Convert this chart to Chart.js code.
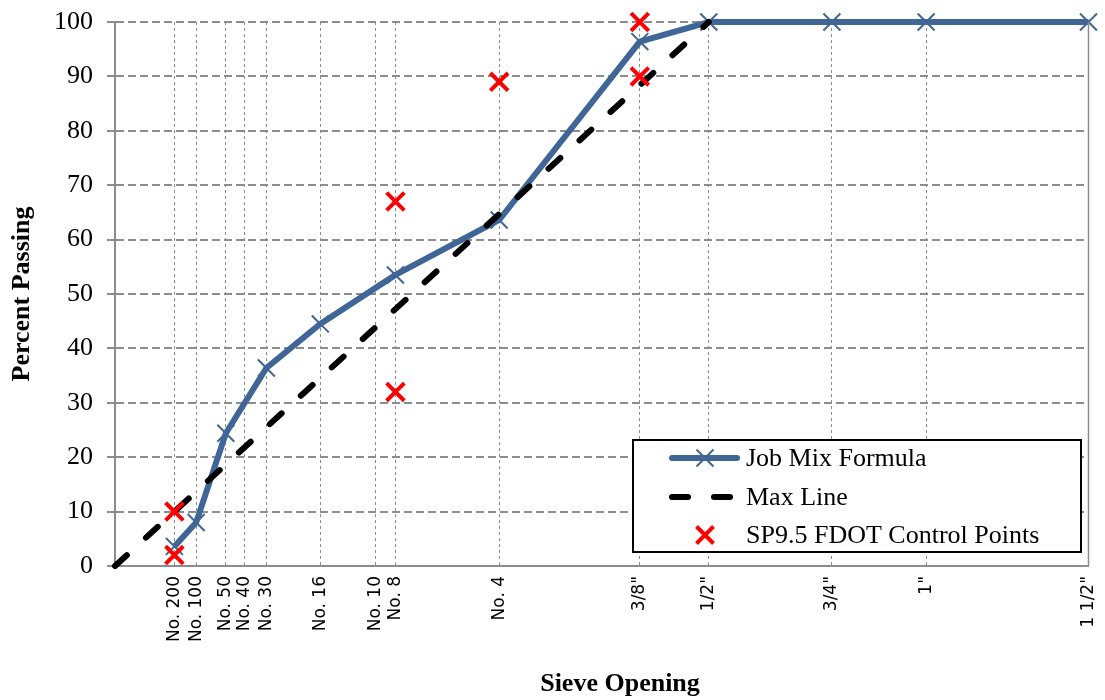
<!DOCTYPE html>
<html>
<head>
<meta charset="utf-8">
<title>Gradation – 0.45 Power Chart</title>
<script src="https://cdn.jsdelivr.net/npm/chart.js@4.4.1/dist/chart.umd.min.js"></script>
<style>
  html, body { margin: 0; padding: 0; background: #ffffff; }
  canvas { display: block; }
</style>
</head>
<body>
<canvas id="gradation" width="1105" height="700"></canvas>
<script>
// Sieve designations and their openings in millimetres
const SIEVE_LABELS = ['No. 200', 'No. 100', 'No. 50', 'No. 40', 'No. 30', 'No. 16', 'No. 10', 'No. 8', 'No. 4', '3/8"', '1/2"', '3/4"', '1"', '1 1/2"'];
const SIEVE_MM = [0.075, 0.15, 0.3, 0.425, 0.6, 1.18, 2.0, 2.36, 4.75, 9.5, 12.5, 19, 25, 37.5];

// Job mix formula gradation (percent passing)
const JMF_SIEVES = ['No. 200', 'No. 100', 'No. 50', 'No. 30', 'No. 16', 'No. 8', 'No. 4', '3/8"', '1/2"', '3/4"', '1"', '1 1/2"'];
const JMF_PASSING = [3.6, 8.0, 24.4, 36.4, 44.5, 53.5, 63.6, 96.4, 100, 100, 100, 100];

// Maximum density line: from the origin to 100 % at the maximum aggregate size
const MAX_LINE_MM = [0, 12.5];
const MAX_LINE_PASSING = [0, 100];

// SP9.5 FDOT control points
const CONTROL_SIEVES = ['No. 200', 'No. 200', 'No. 8', 'No. 8', 'No. 4', '3/8"', '3/8"'];
const CONTROL_PASSING = [2, 10, 32, 67, 89, 90, 100];

// Y axis ticks
const Y_MIN = 0, Y_MAX = 100, Y_STEP = 10;

// 0.45 power scale for the sieve axis
const POWER = 0.45;
const gx = mm => Math.pow(mm, POWER);
const sieveX = label => gx(SIEVE_MM[SIEVE_LABELS.indexOf(label)]);

const BLUE = '#3F6696';
const RED = '#FF0000';
const GRID = '#8c8c8c';
const SERIF = '"Liberation Serif", "Times New Roman", serif';

const jmfData = JMF_SIEVES.map((s, i) => ({ x: sieveX(s), y: JMF_PASSING[i] }));
const maxData = MAX_LINE_MM.map((mm, i) => ({ x: gx(mm), y: MAX_LINE_PASSING[i] }));
const ctrlData = CONTROL_SIEVES.map((s, i) => ({ x: sieveX(s), y: CONTROL_PASSING[i] }));

// Axis titles, right frame edge and the boxed legend
const decorations = {
  id: 'decorations',
  afterDatasetsDraw(chart) {
    const { ctx, chartArea: a } = chart;
    ctx.save();
    // right frame edge
    ctx.strokeStyle = GRID;
    ctx.lineWidth = 1.5;
    ctx.beginPath();
    ctx.moveTo(a.right, a.top);
    ctx.lineTo(a.right, a.bottom);
    ctx.stroke();

    // legend box
    const bx = 633, by = 440, bw = 448, bh = 112;
    ctx.fillStyle = '#ffffff';
    ctx.fillRect(bx, by, bw, bh);
    ctx.strokeStyle = '#000000';
    ctx.lineWidth = 2;
    ctx.strokeRect(bx, by, bw, bh);

    const rows = [458, 497, 535];
    const sx0 = 672, sx1 = 737, mx = 705;

    // Job Mix Formula sample
    ctx.strokeStyle = BLUE;
    ctx.lineWidth = 6;
    ctx.lineCap = 'round';
    ctx.beginPath();
    ctx.moveTo(sx0, rows[0]);
    ctx.lineTo(sx1, rows[0]);
    ctx.stroke();
    ctx.lineCap = 'butt';
    ctx.lineWidth = 2;
    const r1 = 12 * Math.SQRT1_2;
    ctx.beginPath();
    ctx.moveTo(mx - r1, rows[0] - r1); ctx.lineTo(mx + r1, rows[0] + r1);
    ctx.moveTo(mx - r1, rows[0] + r1); ctx.lineTo(mx + r1, rows[0] - r1);
    ctx.stroke();

    // Max Line sample
    ctx.strokeStyle = '#000000';
    ctx.lineWidth = 6;
    ctx.lineCap = 'round';
    ctx.setLineDash([16, 26]);
    ctx.beginPath();
    ctx.moveTo(sx0, rows[1]);
    ctx.lineTo(sx1, rows[1]);
    ctx.stroke();
    ctx.setLineDash([]);

    // Control points sample
    ctx.strokeStyle = RED;
    ctx.lineWidth = 4;
    ctx.lineCap = 'butt';
    const r2 = 12 * Math.SQRT1_2;
    ctx.beginPath();
    ctx.moveTo(mx - r2, rows[2] - r2); ctx.lineTo(mx + r2, rows[2] + r2);
    ctx.moveTo(mx - r2, rows[2] + r2); ctx.lineTo(mx + r2, rows[2] - r2);
    ctx.stroke();

    ctx.fillStyle = '#000000';
    ctx.font = '26px ' + SERIF;
    ctx.textAlign = 'left';
    ctx.textBaseline = 'middle';
    ctx.fillText('Job Mix Formula', 746, rows[0] + 1);
    ctx.fillText('Max Line', 746, rows[1] + 1);
    ctx.fillText('SP9.5 FDOT Control Points', 746, rows[2] + 1);

    // axis titles
    ctx.font = 'bold 26px ' + SERIF;
    ctx.textAlign = 'center';
    ctx.fillText('Sieve Opening', 620, 684);
    ctx.translate(22, 294);
    ctx.rotate(-Math.PI / 2);
    ctx.fillText('Percent Passing', 0, 0);
    ctx.restore();
  }
};

new Chart(document.getElementById('gradation'), {
  type: 'scatter',
  data: {
    datasets: [
      {
        label: 'Job Mix Formula',
        data: jmfData,
        showLine: true,
        borderColor: BLUE,
        backgroundColor: BLUE,
        borderWidth: 6,
        pointStyle: 'crossRot',
        pointRadius: 12,
        pointBorderWidth: 2,
        pointBorderColor: BLUE,
        pointHoverRadius: 12,
        tension: 0,
        clip: false,
        order: 3
      },
      {
        label: 'Max Line',
        data: maxData,
        showLine: true,
        borderColor: '#000000',
        borderWidth: 6,
        borderDash: [16, 26],
        borderCapStyle: 'round',
        pointRadius: 0,
        pointHoverRadius: 0,
        clip: false,
        order: 2
      },
      {
        label: 'SP9.5 FDOT Control Points',
        data: ctrlData,
        showLine: false,
        pointStyle: 'crossRot',
        pointRadius: 12.5,
        pointBorderWidth: 4,
        pointBorderColor: RED,
        backgroundColor: RED,
        pointHoverRadius: 12.5,
        clip: false,
        order: 1
      }
    ]
  },
  options: {
    responsive: false,
    animation: false,
    devicePixelRatio: 1,
    layout: { padding: { top: 22, right: 9, bottom: 0, left: 0 } },
    plugins: {
      legend: { display: false },
      tooltip: { enabled: false }
    },
    scales: {
      x: {
        type: 'linear',
        min: 0,
        max: gx(SIEVE_MM[SIEVE_MM.length - 1]),
        afterBuildTicks: scale => {
          scale.ticks = SIEVE_MM.map(mm => ({ value: gx(mm) }));
        },
        afterFit: scale => {
          scale.height = 134;
          scale.paddingLeft = 0;
          scale.paddingRight = 0;
        },
        ticks: {
          autoSkip: false,
          minRotation: 90,
          maxRotation: 90,
          padding: 10,
          color: '#000000',
          font: { family: '"DejaVu Sans", sans-serif', size: 17 },
          callback: (value, index) => SIEVE_LABELS[index]
        },
        grid: {
          color: GRID,
          lineWidth: 1,
          drawTicks: false,
          tickBorderDash: []
        },
        border: { display: true, color: GRID, width: 2, dash: [3, 3] }
      },
      y: {
        min: Y_MIN,
        max: Y_MAX,
        afterFit: scale => {
          scale.width = 115;
          scale.paddingTop = 0;
          scale.paddingBottom = 0;
        },
        ticks: {
          stepSize: Y_STEP,
          padding: 14,
          color: '#000000',
          font: { family: SERIF, size: 26 }
        },
        grid: {
          color: GRID,
          lineWidth: 2,
          drawTicks: true,
          tickLength: 8,
          tickColor: GRID,
          tickWidth: 2,
          tickBorderDash: []
        },
        border: { display: true, color: GRID, width: 2, dash: [8, 4] }
      }
    }
  },
  plugins: [decorations]
});
</script>
</body>
</html>
